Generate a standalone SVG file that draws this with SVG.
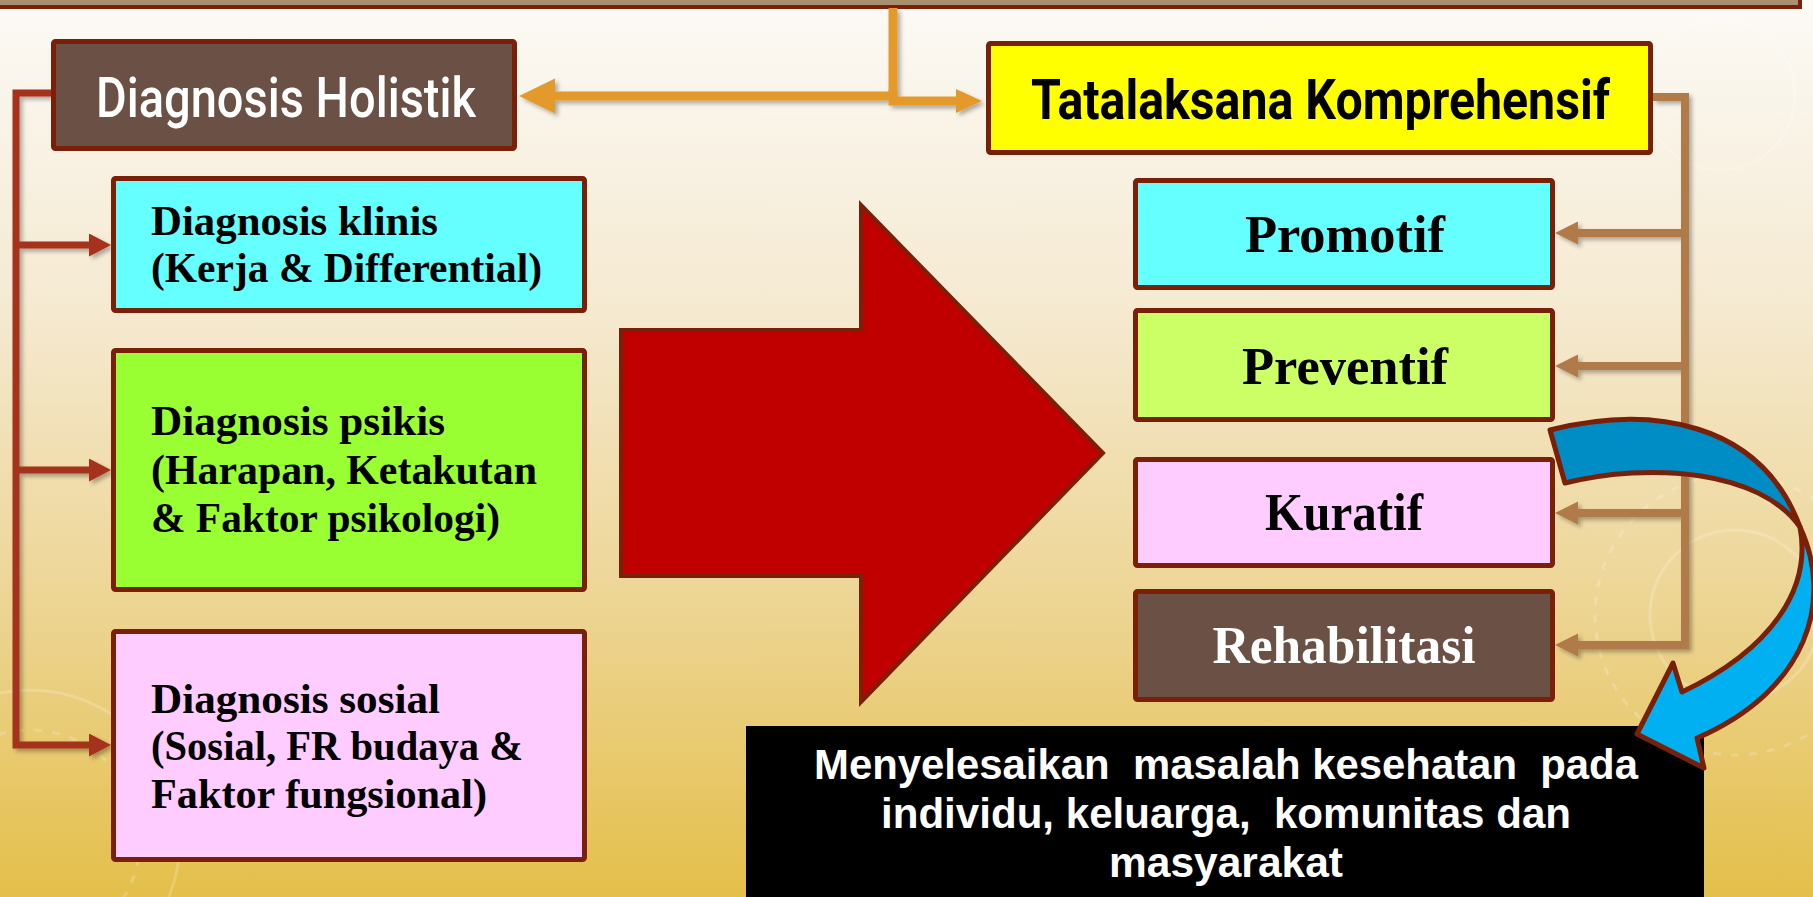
<svg xmlns="http://www.w3.org/2000/svg" width="1813" height="897" viewBox="0 0 1813 897">
  <defs>
    <linearGradient id="bg" x1="0" y1="0" x2="0" y2="1">
      <stop offset="0" stop-color="#FCFAF6"/>
      <stop offset="0.35" stop-color="#F5E9D0"/>
      <stop offset="0.7" stop-color="#ECD38E"/>
      <stop offset="1" stop-color="#E4BF4A"/>
    </linearGradient>
    <filter id="shadow" x="-10%" y="-10%" width="130%" height="130%">
      <feDropShadow dx="3" dy="3" stdDeviation="2" flood-color="#000" flood-opacity="0.3"/>
    </filter>
    <marker id="headRed" markerUnits="userSpaceOnUse" markerWidth="24" markerHeight="24" refX="2" refY="11.5" orient="auto">
      <path d="M0,0 L22,11.5 L0,23 Z" fill="#A5301A"/>
    </marker>
    <marker id="headOrangeBig" markerUnits="userSpaceOnUse" markerWidth="38" markerHeight="36" refX="2" refY="17.5" orient="auto">
      <path d="M0,0 L36,17.5 L0,35 Z" fill="#E39A2B"/>
    </marker>
    <marker id="headOrange" markerUnits="userSpaceOnUse" markerWidth="28" markerHeight="26" refX="2" refY="12" orient="auto">
      <path d="M0,0 L26,12 L0,24 Z" fill="#E39A2B"/>
    </marker>
    <marker id="headBrown" markerUnits="userSpaceOnUse" markerWidth="25" markerHeight="24" refX="2" refY="11.5" orient="auto">
      <path d="M0,0 L23,11.5 L0,23 Z" fill="#B07A48"/>
    </marker>
  </defs>
  <style>
    .box { stroke: #7B2008; stroke-width: 5; }
    .lbl { font-family: "Liberation Serif", "Times New Roman", serif; font-weight: bold; font-size: 43px; fill: #000; }
    .big { font-family: "Liberation Serif", "Times New Roman", serif; font-weight: bold; font-size: 52px; text-anchor: middle; }
    .head { font-family: "Liberation Sans Narrow", Roboto, "DejaVu Sans", sans-serif; font-size: 56px; }
    .note { font-family: "Liberation Sans", Arial, sans-serif; font-weight: bold; font-size: 42px; fill: #fff; text-anchor: middle; white-space: pre; }
    .wire { fill: none; stroke-linejoin: miter; }
    .deco { fill: none; stroke: #fff; stroke-opacity: 0.2; stroke-width: 3; }
  </style>

  <!-- backdrop -->
  <rect x="0" y="0" width="1813" height="897" fill="url(#bg)"/>
  <g id="backdrop-deco">
    <circle class="deco" cx="30" cy="840" r="150"/>
    <circle class="deco" cx="30" cy="840" r="110" stroke-dasharray="8 10"/>
    <circle class="deco" cx="1735" cy="615" r="85"/>
    <circle class="deco" cx="1735" cy="615" r="140" stroke-dasharray="8 10"/>
    <circle class="deco" cx="1720" cy="95" r="75"/>
  </g>

  <!-- band of the box above -->
  <rect id="top-band" x="-10" y="-30" width="1810" height="37" fill="#A89070" stroke="#7B2008" stroke-width="4"/>

  <!-- connectors -->
  <g id="connectors" filter="url(#shadow)">
    <path class="wire" d="M893,8 V96 H553" stroke="#E39A2B" stroke-width="9" marker-end="url(#headOrangeBig)"/>
    <path class="wire" d="M893,90 V101 H958" stroke="#E39A2B" stroke-width="9" marker-end="url(#headOrange)"/>
    <path class="wire" d="M51,93 H16 V745 H91" stroke="#A5301A" stroke-width="7" marker-end="url(#headRed)"/>
    <path class="wire" d="M16,245 H91" stroke="#A5301A" stroke-width="7" marker-end="url(#headRed)"/>
    <path class="wire" d="M16,470 H91" stroke="#A5301A" stroke-width="7" marker-end="url(#headRed)"/>
    <path class="wire" d="M1653,97 H1685 V645 H1576" stroke="#B07A48" stroke-width="8" marker-end="url(#headBrown)"/>
    <path class="wire" d="M1685,233 H1576" stroke="#B07A48" stroke-width="8" marker-end="url(#headBrown)"/>
    <path class="wire" d="M1685,366 H1576" stroke="#B07A48" stroke-width="8" marker-end="url(#headBrown)"/>
    <path class="wire" d="M1685,513 H1576" stroke="#B07A48" stroke-width="8" marker-end="url(#headBrown)"/>
  </g>

  <!-- headers -->
  <g id="diagnosis-holistik">
    <rect class="box" x="53.5" y="41.5" width="461" height="107" rx="2" fill="#6B5045"/>
    <text class="head" x="96" y="117" fill="#fff" font-weight="500" textLength="380" lengthAdjust="spacingAndGlyphs">Diagnosis Holistik</text>
  </g>
  <g id="tatalaksana">
    <rect class="box" x="988.5" y="43.5" width="662" height="109" rx="2" fill="#FFFF00"/>
    <text class="head" x="1031" y="119" fill="#000" font-weight="bold" textLength="579" lengthAdjust="spacingAndGlyphs">Tatalaksana Komprehensif</text>
  </g>

  <!-- diagnosis branches -->
  <g id="diagnosis-klinis">
    <rect class="box" x="113.5" y="178.5" width="471" height="132" rx="2" fill="#66FFFF"/>
    <text class="lbl" x="151" y="235" textLength="287" lengthAdjust="spacingAndGlyphs">Diagnosis klinis</text>
    <text class="lbl" x="151" y="282" textLength="391" lengthAdjust="spacingAndGlyphs">(Kerja &amp; Differential)</text>
  </g>
  <g id="diagnosis-psikis">
    <rect class="box" x="113.5" y="350.5" width="471" height="239" rx="2" fill="#99FF33"/>
    <text class="lbl" x="151" y="435" textLength="294" lengthAdjust="spacingAndGlyphs">Diagnosis psikis</text>
    <text class="lbl" x="151" y="484" textLength="386" lengthAdjust="spacingAndGlyphs">(Harapan, Ketakutan</text>
    <text class="lbl" x="151" y="532" textLength="349" lengthAdjust="spacingAndGlyphs">&amp; Faktor psikologi)</text>
  </g>
  <g id="diagnosis-sosial">
    <rect class="box" x="113.5" y="631.5" width="471" height="228" rx="2" fill="#FFCCFF"/>
    <text class="lbl" x="151" y="713" textLength="289" lengthAdjust="spacingAndGlyphs">Diagnosis sosial</text>
    <text class="lbl" x="151" y="760" textLength="372" lengthAdjust="spacingAndGlyphs">(Sosial, FR budaya &amp;</text>
    <text class="lbl" x="151" y="808" textLength="336" lengthAdjust="spacingAndGlyphs">Faktor fungsional)</text>
  </g>

  <!-- central block arrow -->
  <g id="big-arrow">
    <polygon points="621,330 861,330 861,205 1103,453 861,702 861,576 621,576" fill="#C00000" stroke="#7B2008" stroke-width="4" stroke-linejoin="miter"/>
  </g>

  <!-- management branches -->
  <g id="promotif">
    <rect class="box" x="1135.5" y="180.5" width="417" height="107" rx="2" fill="#66FFFF"/>
    <text class="big" x="1345" y="252" fill="#000" textLength="200" lengthAdjust="spacingAndGlyphs">Promotif</text>
  </g>
  <g id="preventif">
    <rect class="box" x="1135.5" y="310.5" width="417" height="109" rx="2" fill="#CCFF66"/>
    <text class="big" x="1345" y="384" fill="#000" textLength="206" lengthAdjust="spacingAndGlyphs">Preventif</text>
  </g>
  <g id="kuratif">
    <rect class="box" x="1135.5" y="459.5" width="417" height="106" rx="2" fill="#FFCCFF"/>
    <text class="big" x="1344" y="530" fill="#000" textLength="158" lengthAdjust="spacingAndGlyphs">Kuratif</text>
  </g>
  <g id="rehabilitasi">
    <rect class="box" x="1135.5" y="591.5" width="417" height="108" rx="2" fill="#6B5045"/>
    <text class="big" x="1344" y="663" fill="#fff" textLength="263" lengthAdjust="spacingAndGlyphs">Rehabilitasi</text>
  </g>

  <!-- outcome -->
  <g id="outcome">
    <rect x="746" y="726" width="958" height="175" fill="#000"/>
    <text class="note" x="1226" y="779" xml:space="preserve" textLength="824" lengthAdjust="spacingAndGlyphs">Menyelesaikan  masalah kesehatan  pada</text>
    <text class="note" x="1226" y="828" xml:space="preserve" textLength="690" lengthAdjust="spacingAndGlyphs">individu, keluarga,  komunitas dan</text>
    <text class="note" x="1226" y="877" textLength="234" lengthAdjust="spacingAndGlyphs">masyarakat</text>
  </g>

  <!-- curved ribbon arrow -->
  <g id="curved-arrow" stroke="#7B2008" stroke-width="5" stroke-linejoin="round">
    <path d="M1800,527 C1834,600 1808,690 1697,738 L1704,768 L1637,734 L1673,663 L1682,692 C1770,650 1812,590 1800,527 Z" fill="#00B0F0"/>
    <path d="M1550,430 C1650,405 1760,420 1800,527 C1760,470 1650,462 1565,483 Z" fill="#008CC4"/>
  </g>
</svg>
